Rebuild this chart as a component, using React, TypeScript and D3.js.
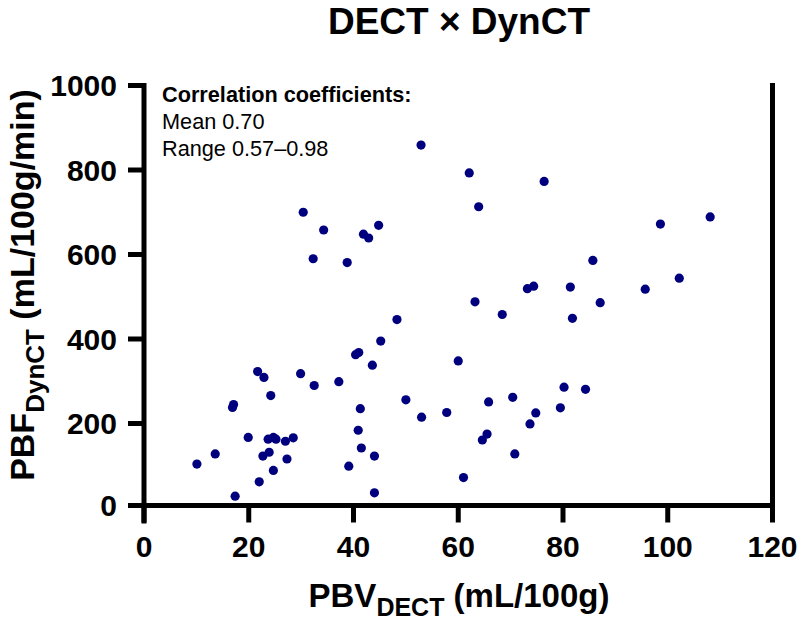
import React from "react";
import * as d3 from "d3";

const pbvDect: number[] = [
  52.9, 30.4, 34.3, 41.9, 42.9, 44.8, 32.3, 38.8, 62.1, 76.4, 63.9, 98.6, 108.1, 85.7, 102.2,
  73.2, 74.4, 81.4, 95.7, 63.2, 87.1, 68.4, 81.8, 60.0, 80.2, 84.3, 65.8, 70.4, 57.8, 74.8,
  79.5, 73.7, 65.5, 64.6, 70.8, 61.0, 48.3, 45.2, 40.4, 41.0, 43.6, 21.7, 22.9, 29.9, 32.5,
  37.2, 24.2, 16.9, 17.1, 50.0, 41.3, 53.0, 19.9, 23.7, 24.7, 25.2, 27.0, 28.5, 40.9, 41.5,
  44.0, 13.6, 10.1, 22.7, 23.9, 27.3, 24.7, 39.1, 22.0, 17.4, 44.0,
];
const pbfDynct: number[] = [
  859, 700, 658, 648, 639, 669, 590, 581, 793, 773, 713, 672, 689, 586, 544,
  519, 525, 523, 518, 488, 486, 458, 449, 348, 286, 281, 251, 262, 226, 225,
  237, 199, 175, 161, 128, 72, 446, 395, 363, 368, 338, 323, 309, 318, 290,
  299, 266, 238, 245, 256, 235, 215, 167, 163, 167, 163, 158, 166, 184, 142,
  123, 128, 104, 123, 132, 116, 89, 99, 62, 28, 36,
];
const xTicks: number[] = [0, 20, 40, 60, 80, 100, 120];
const yTicks: number[] = [0, 200, 400, 600, 800, 1000];
const titleText = "DECT × DynCT";
const annotationLines: string[] = ["Correlation coefficients:", "Mean 0.70", "Range 0.57–0.98"];

const FONT = "'Liberation Sans', Arial, Helvetica, sans-serif";

export default function App() {
  const W = 800;
  const H = 621;
  const x = d3.scaleLinear().domain([0, 120]).range([144, 772.5]);
  const y = d3.scaleLinear().domain([0, 1000]).range([508, 85.5]);
  const lw = 5;
  const axisY = y(0) - 2.5;
  const dotColor = "#00007f";

  return (
    <svg
      width={W}
      height={H}
      viewBox={`0 0 ${W} ${H}`}
      style={{ position: "absolute", left: 0, top: 0, background: "#fff" }}
      fontFamily={FONT}
    >
      <rect x={0} y={0} width={W} height={H} fill="#fff" />
      {/* Title */}
      <text x={459} y={34} textAnchor="middle" fontSize={37} fontWeight="bold" fill="#000">
        {titleText}
      </text>

      {/* Points */}
      {pbvDect.map((v, i) => (
        <circle key={i} cx={x(v)} cy={y(pbfDynct[i])} r={4.6} fill={dotColor} />
      ))}

      {/* Left axis */}
      <line x1={x(0)} x2={x(0)} y1={y(1000) - lw / 2} y2={axisY + 18} stroke="#000" strokeWidth={lw} />
      {yTicks.map((t) => (
        <g key={"yt" + t}>
          <line x1={x(0) - 16} x2={x(0)} y1={t === 0 ? axisY : y(t)} y2={t === 0 ? axisY : y(t)} stroke="#000" strokeWidth={lw} />
          <text
            x={117}
            y={t === 0 ? axisY : y(t)}
            dy="0.36em"
            textAnchor="end"
            fontSize={30}
            fontWeight="bold"
            fill="#000"
          >
            {t}
          </text>
        </g>
      ))}

      {/* Bottom axis */}
      <line x1={x(0) - 16} x2={x(120) + lw / 2} y1={axisY} y2={axisY} stroke="#000" strokeWidth={lw} />
      {xTicks.map((t) => (
        <g key={"xt" + t}>
          <line x1={x(t)} x2={x(t)} y1={axisY} y2={axisY + 17} stroke="#000" strokeWidth={lw} />
          <text x={x(t)} y={557} textAnchor="middle" fontSize={30} fontWeight="bold" fill="#000">
            {t}
          </text>
        </g>
      ))}

      {/* Right frame line */}
      <line x1={x(120)} x2={x(120)} y1={y(1000) - lw / 2} y2={axisY} stroke="#000" strokeWidth={lw} />

      {/* X axis label */}
      <text x={459} y={606.5} textAnchor="middle" fontSize={33} fontWeight="bold" fill="#000">
        <tspan>PBV</tspan>
        <tspan fontSize={25} dy={9.5}>DECT</tspan>
        <tspan dy={-9.5}> (mL/100g)</tspan>
      </text>

      {/* Y axis label */}
      <text
        transform={`translate(34, ${285}) rotate(-90)`}
        textAnchor="middle"
        fontSize={34}
        fontWeight="bold"
        fill="#000"
      >
        <tspan>PBF</tspan>
        <tspan fontSize={26} dy={10}>DynCT</tspan>
        <tspan dy={-10}> (mL/100g/min)</tspan>
      </text>

      {/* Annotation */}
      {annotationLines.map((s, i) => (
        <text
          key={"an" + i}
          x={162}
          y={101.5 + i * 27.3}
          fontSize={21.7}
          fontWeight={i === 0 ? "bold" : "normal"}
          fill="#000"
        >
          {s}
        </text>
      ))}
    </svg>
  );
}
